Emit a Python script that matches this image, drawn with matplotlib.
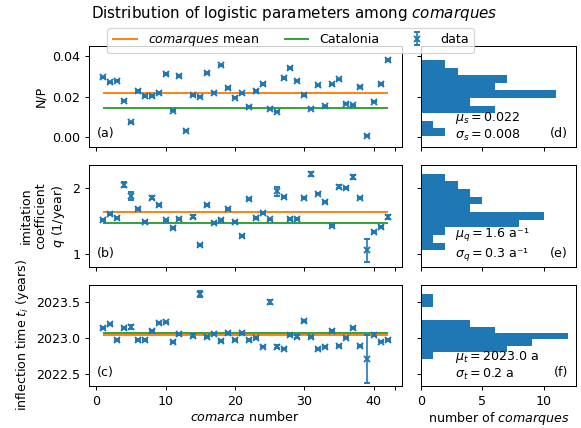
import numpy as np
import matplotlib.pyplot as plt

# comarca index and fitted logistic parameters (13 has no fit for q and t)
comarca = np.arange(1, 43)

s_vals = [0.0295, 0.0270, 0.0279, 0.0180, 0.0074, 0.0228, 0.0203, 0.0203, 0.0218, 0.0311,
          0.0130, 0.0303, 0.0033, 0.0207, 0.0200, 0.0316, 0.0220, 0.0354, 0.0244, 0.0195,
          0.0216, 0.0151, 0.0228, 0.0262, 0.0141, 0.0126, 0.0292, 0.0340, 0.0279, 0.0208,
          0.0141, 0.0257, 0.0152, 0.0261, 0.0285, 0.0166, 0.0158, 0.0249, 0.0007, 0.0175,
          0.0262, 0.0380]
s_err = [0.0004, 0.0003, 0.0003, 0.0003, 0.0002, 0.0003, 0.0003, 0.0003, 0.0003, 0.0004,
         0.0003, 0.0004, 0.0002, 0.0003, 0.0003, 0.0004, 0.0003, 0.0004, 0.0004, 0.0003,
         0.0003, 0.0003, 0.0003, 0.0004, 0.0003, 0.0003, 0.0004, 0.0004, 0.0004, 0.0003,
         0.0003, 0.0003, 0.0003, 0.0004, 0.0004, 0.0003, 0.0003, 0.0004, 0.0002, 0.0003,
         0.0004, 0.0005]

q_vals = [1.515, 1.608, 1.548, 2.050, 1.879, 1.678, 1.487, 1.854, 1.744, 1.508,
          1.392, 1.533, np.nan, 1.563, 1.136, 1.745, 1.467, 1.513, 1.678, 1.482,
          1.266, 1.829, 1.543, 1.613, 1.523, 1.950, 1.869, 1.523, 1.523, 1.849,
          2.216, 1.915, 1.789, 1.427, 2.020, 1.995, 2.166, 1.844, 1.050, 1.337,
          1.412, 1.558]
q_err = [0.015, 0.015, 0.015, 0.040, 0.060, 0.015, 0.012, 0.020, 0.015, 0.012,
         0.015, 0.015, np.nan, 0.020, 0.020, 0.015, 0.012, 0.012, 0.015, 0.012,
         0.015, 0.015, 0.012, 0.015, 0.012, 0.070, 0.015, 0.015, 0.015, 0.015,
         0.030, 0.015, 0.015, 0.015, 0.020, 0.015, 0.030, 0.015, 0.180, 0.015,
         0.015, 0.025]

t_vals = [2023.139, 2023.190, 2022.972, 2023.139, 2023.155, 2022.978, 2022.978, 2023.102,
          2023.208, 2023.218, 2022.949, 2023.056, np.nan, 2023.037, 2023.611, 2023.014,
          2023.065, 2022.963, 2023.069, 2022.975, 2023.069, 2022.977, 2023.005, 2022.884,
          2023.500, 2022.880, 2022.856, 2023.046, 2023.023, 2023.241, 2023.014, 2022.852,
          2022.875, 2023.097, 2022.888, 2023.009, 2023.139, 2022.889, 2022.713, 2023.051,
          2022.954, 2022.972]
t_err = [0.012, 0.012, 0.012, 0.012, 0.025, 0.012, 0.012, 0.012, 0.012, 0.012,
         0.012, 0.012, np.nan, 0.015, 0.040, 0.012, 0.012, 0.012, 0.015, 0.012,
         0.015, 0.012, 0.012, 0.012, 0.025, 0.020, 0.012, 0.012, 0.020, 0.012,
         0.012, 0.012, 0.012, 0.012, 0.012, 0.012, 0.012, 0.012, 0.330, 0.015,
         0.012, 0.015]

comarques_mean = [0.0220, 1.638, 2023.051]
catalonia_vals = [0.0146, 1.472, 2023.079]

ylabels = ['N/P', 'imitation\ncoefficient\n$q$ (1/year)', 'inflection time $t_i$ (years)']
panel_left = ['(a)', '(b)', '(c)']
panel_right = ['(d)', '(e)', '(f)']
stat_texts = ['$\\mu_s = 0.022$\n$\\sigma_s = 0.008$',
              '$\\mu_q = 1.6$ a\u207b\u00b9\n$\\sigma_q = 0.3$ a\u207b\u00b9',
              '$\\mu_t = 2023.0$ a\n$\\sigma_t = 0.2$ a']
ylims = [(-0.005, 0.045), (0.804, 2.342), (2022.338, 2023.74)]
yticks = [[0.00, 0.02, 0.04], [1, 2], [2022.5, 2023.0, 2023.5]]
yfmt = ['%.2f', '%d', '%.1f']

# 6.4 in wide figure rendered down to 581 px
fig = plt.figure(figsize=(6.4, 428 / (581 / 6.4)), dpi=581 / 6.4)
gs = fig.add_gridspec(3, 2, width_ratios=[2.02, 1], left=0.153, right=0.991,
                      top=0.8925, bottom=0.098, wspace=0.081, hspace=0.178)

all_vals = [s_vals, q_vals, t_vals]
all_err = [s_err, q_err, t_err]

ax_left = []
ax_right = []
for i in range(3):
    if i == 0:
        axl = fig.add_subplot(gs[i, 0])
        axr = fig.add_subplot(gs[i, 1], sharey=axl)
    else:
        axl = fig.add_subplot(gs[i, 0], sharex=ax_left[0])
        axr = fig.add_subplot(gs[i, 1], sharey=axl, sharex=ax_right[0])
    ax_left.append(axl)
    ax_right.append(axr)

    vals = np.array(all_vals[i], dtype=float)
    errs = np.array(all_err[i], dtype=float)

    l1 = axl.hlines(comarques_mean[i], comarca.min(), comarca.max(), color='C1', lw=1.5,
                    label='$\\it{comarques}$ mean')
    l2 = axl.hlines(catalonia_vals[i], comarca.min(), comarca.max(), color='C2', lw=1.5,
                    label='Catalonia')
    eb = axl.errorbar(comarca, vals, yerr=errs, fmt='x', color='C0', ms=4, mew=1.5,
                      capsize=2, elinewidth=1.3, label='data', zorder=3)

    axl.set_ylim(*ylims[i])
    axl.set_yticks(yticks[i])
    axl.yaxis.set_major_formatter(plt.FormatStrFormatter(yfmt[i]))
    axl.set_ylabel(ylabels[i])
    axl.text(0.025, 0.07, panel_left[i], transform=axl.transAxes, ha='left', va='bottom')

    axr.hist(vals[~np.isnan(vals)], bins=10, orientation='horizontal', color='C0')
    axr.tick_params(labelleft=False)
    axr.text(0.22, 0.04, stat_texts[i], transform=axr.transAxes, ha='left', va='bottom')
    axr.text(0.95, 0.07, panel_right[i], transform=axr.transAxes, ha='right', va='bottom')

    if i < 2:
        axl.tick_params(labelbottom=False)
        axr.tick_params(labelbottom=False)

ax_left[0].set_xticks([0, 10, 20, 30, 40, 43])
ax_left[0].set_xticklabels(['0', '10', '20', '30', '40', ''])
ax_right[0].set_xticks([0, 5, 10])
ax_left[2].set_xlabel('$\\it{comarca}$ number', labelpad=1.5)
ax_right[2].set_xlabel('number of $\\it{comarques}$', labelpad=1.5)

fig.text(0.506, 0.959, 'Distribution of logistic parameters among $\\it{comarques}$',
         ha='center', va='baseline', fontsize=12)
fig.legend(handles=[l1, l2, eb], loc='upper center', bbox_to_anchor=(0.5, 0.949), ncol=3)

fig.savefig('out.png', dpi=581 / 6.4)
